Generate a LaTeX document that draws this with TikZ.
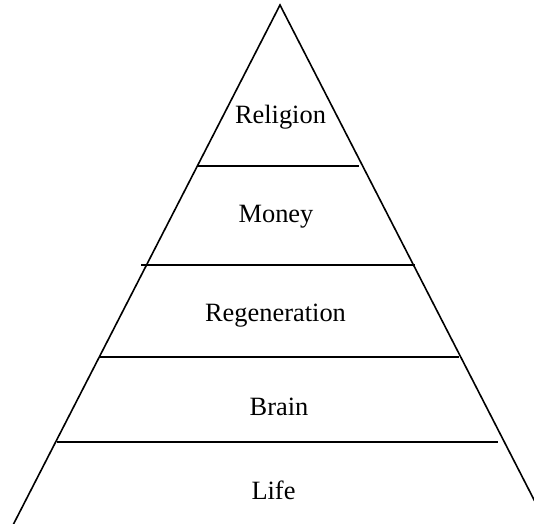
\documentclass[tikz,border=0pt]{standalone}
\usepackage{fontspec}
\setmainfont{Liberation Serif}
\begin{document}
\begin{tikzpicture}[x=1pt,y=-1pt,
  edge/.style={line width=1.6pt,black},
  lbl/.style={anchor=base,inner sep=0pt,font=\fontsize{26.4}{30}\selectfont}]
\clip (0,0) rectangle (534,523);
\fill[white] (0,0) rectangle (534,523);
\coordinate (apex) at (280,5);
\coordinate (bl) at (12,527);
\coordinate (br) at (548,527);
\draw[edge,line join=miter] (bl) -- (apex) -- (br);
\coordinate (a1) at (198,166); \coordinate (b1) at (359,166);
\coordinate (a2) at (141,265); \coordinate (b2) at (415,265);
\coordinate (a3) at (99,357);  \coordinate (b3) at (459,357);
\coordinate (a4) at (57,442);  \coordinate (b4) at (498,442);
\draw[edge] (a1) -- (b1);
\draw[edge] (a2) -- (b2);
\draw[edge] (a3) -- (b3);
\draw[edge] (a4) -- (b4);
\node[lbl] (religion) at (280.5,123) {Religion};
\node[lbl] (money) at (276,222) {Money};
\node[lbl] (regen) at (275.5,321) {Regeneration};
\node[lbl] (brain) at (279,415) {Brain};
\node[lbl] (life) at (273.5,499) {Life};
\end{tikzpicture}
\end{document}
